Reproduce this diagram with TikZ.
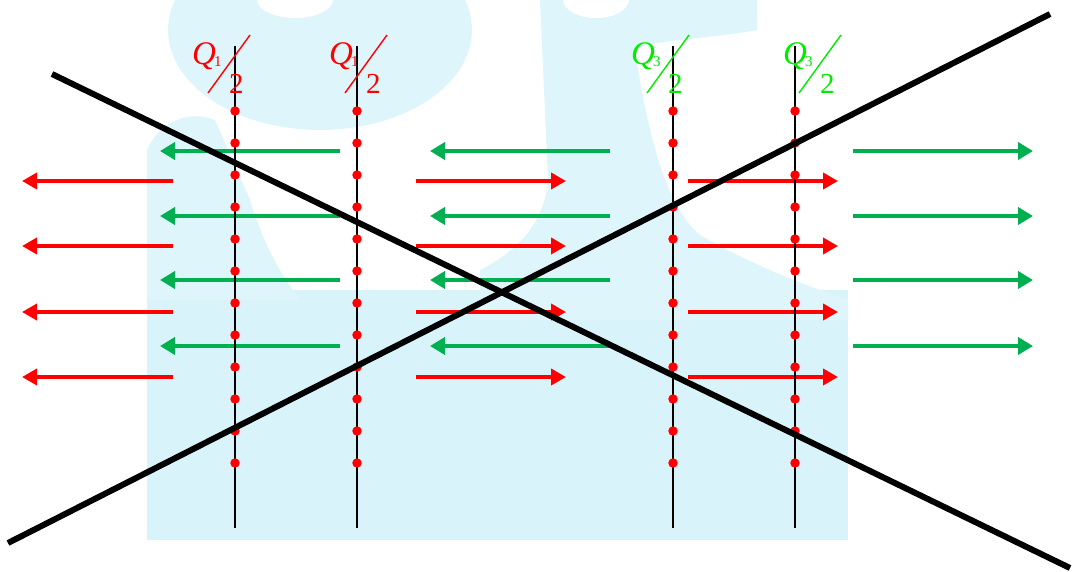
\documentclass[tikz,border=0pt]{standalone}
\usepackage{fontspec}
\setmainfont{Liberation Serif}
\usetikzlibrary{arrows.meta}
\definecolor{chargered}{RGB}{255,0,0}
\definecolor{fieldgreen}{RGB}{0,176,80}
\definecolor{labgreen}{RGB}{0,235,0}
\definecolor{wmark}{RGB}{216,244,250}

\begin{document}
\begin{tikzpicture}[x=1pt,y=-1pt,>=Stealth]
\tikzset{
  plate/.style={draw=black,line width=1.6pt},
  charge/.style={circle,fill=chargered,inner sep=0pt,minimum size=9.5pt},
  gfield/.style={-{Triangle[length=15pt,width=17pt]},draw=fieldgreen,line width=4pt},
  rfield/.style={-{Triangle[length=15pt,width=16pt]},draw=chargered,line width=4pt},
  cross/.style={draw=black,line width=6pt},
  qlab/.style={font=\fontsize{29}{31}\selectfont,inner sep=0pt,anchor=base west}
}
\useasboundingbox (0,0) rectangle (1073,571);
% faint logo behind the picture
\begin{scope}
\clip (0,0) rectangle (1073,571);
\fill[wmark] (147,290) rectangle (848,540);
\fill[wmark!85,even odd rule] (320,30) ellipse [x radius=152pt,y radius=100pt]
  (295,0) ellipse [x radius=38pt,y radius=18pt];
\fill[wmark!85] (147,150) .. controls (160,120) and (190,110) .. (215,120)
  -- (250,200) .. controls (265,250) and (285,280) .. (300,300) -- (147,300) -- cycle;
\fill[wmark!85,even odd rule] (540,0) -- (757,0) -- (757,30) .. controls (700,40) and (650,40) .. (635,50)
  .. controls (650,150) and (670,210) .. (700,235) .. controls (760,270) and (820,290) .. (848,300)
  -- (848,320) -- (480,320) -- (480,270) .. controls (520,250) and (545,220) .. (548,180) -- cycle
  (596,0) ellipse [x radius=33pt,y radius=18pt];
\end{scope}
% field arrows
\foreach \y [count=\k] in {151,216,280,346} {
  \foreach \xs/\xe [count=\g] in {340/160,610/430,853/1033} {
    \coordinate (gs\g-\k) at (\xs,\y);
    \coordinate (ge\g-\k) at (\xe,\y);
    \draw[gfield] (gs\g-\k) -- (ge\g-\k);
  }
}
\foreach \y [count=\k] in {181,246,312,377} {
  \foreach \xs/\xe [count=\g] in {173/22,416/566,688/838} {
    \coordinate (rs\g-\k) at (\xs,\y);
    \coordinate (re\g-\k) at (\xe,\y);
    \draw[rfield] (rs\g-\k) -- (re\g-\k);
  }
}
% plates with charges
\foreach \x [count=\i] in {235,357,673,795} {
  \coordinate (top\i) at (\x,46);
  \coordinate (bot\i) at (\x,528);
  \draw[plate] (top\i) -- (bot\i);
  \foreach \y [count=\j] in {111,143,...,463}
    \node[charge] (c\i-\j) at (\x,\y) {};
}
% labels Q/2
\foreach \sx/\sub/\col/\nm in {208/1/chargered/qa,345/1/chargered/qb,647/3/labgreen/qc,799/3/labgreen/qd} {
  \node[qlab,text=\col] (\nm-q) at (\sx-16,64) {{\fontsize{33}{35}\selectfont\textit{Q}}\kern-2pt\raisebox{-2pt}{\fontsize{15}{15}\selectfont\sub}};
  \node[qlab,text=\col] (\nm-two) at (\sx+21,93) {2};
  \draw[\col,line width=1.4pt] (\sx,93) -- (\sx+42,35);
}
% crossing out
\coordinate (xa1) at (52,74);
\coordinate (xa2) at (1070,568);
\coordinate (xb1) at (8,543);
\coordinate (xb2) at (1050,14);
\draw[cross] (xa1) -- (xa2);
\draw[cross] (xb1) -- (xb2);
\end{tikzpicture}
\end{document}
